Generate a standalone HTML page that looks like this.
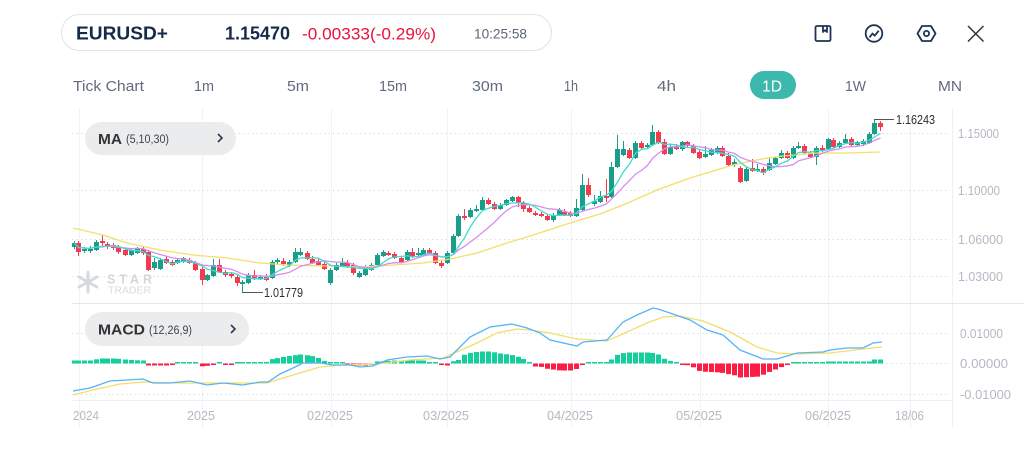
<!DOCTYPE html>
<html><head><meta charset="utf-8">
<style>
html,body{margin:0;padding:0;background:#fff;width:1024px;height:456px;overflow:hidden}
svg{display:block}
text{font-family:"Liberation Sans",sans-serif}
</style></head><body>
<svg id="s" width="1024" height="456" viewBox="0 0 1024 456" xmlns="http://www.w3.org/2000/svg">
<rect width="1024" height="456" fill="#fff"/>
<!-- top bar -->
<rect x="61.5" y="14.5" width="490" height="36" rx="18" fill="#fff" stroke="#dfe2e8"/>
<text x="76" y="39.5" font-size="18" font-weight="bold" fill="#162a4a" textLength="92" lengthAdjust="spacingAndGlyphs">EURUSD+</text>
<text x="225" y="39.5" font-size="18" font-weight="bold" fill="#162a4a" textLength="65" lengthAdjust="spacingAndGlyphs">1.15470</text>
<text x="302" y="39.5" font-size="17" fill="#e8123c" textLength="134" lengthAdjust="spacingAndGlyphs">-0.00333(-0.29%)</text>
<text x="474" y="38.5" font-size="14" fill="#5b6577" textLength="53" lengthAdjust="spacingAndGlyphs">10:25:58</text>
<!-- icons -->
<g fill="none" stroke="#1f3557" stroke-width="1.8" stroke-linejoin="round">
<rect x="815.5" y="26" width="15" height="15" rx="1.5"/>
<path d="M823 26 v6 l2 -1.8 l2 1.8 v-6"/>
<circle cx="874" cy="33.5" r="8.3"/>
<path d="M869.5 37.5 l3 -4 l2.2 2.2 l4 -5"/>
<path d="M917.5 33.5 L922 26 L931 26 L935.5 33.5 L931 41 L922 41 Z"/>
<circle cx="926.5" cy="33.5" r="2.6"/>
</g>
<g stroke="#333" stroke-width="1.5"><line x1="968" y1="26" x2="983.5" y2="41.5"/><line x1="983.5" y1="26" x2="968" y2="41.5"/></g>
<!-- timeframe row -->
<g font-size="15" fill="#5f6b7e">
<text x="73" y="91" textLength="71" lengthAdjust="spacingAndGlyphs">Tick Chart</text>
<text x="194" y="91" textLength="20" lengthAdjust="spacingAndGlyphs">1m</text>
<text x="287" y="91" textLength="22" lengthAdjust="spacingAndGlyphs">5m</text>
<text x="379" y="91" textLength="28" lengthAdjust="spacingAndGlyphs">15m</text>
<text x="472" y="91" textLength="31" lengthAdjust="spacingAndGlyphs">30m</text>
<text x="564" y="91" textLength="14" lengthAdjust="spacingAndGlyphs">1h</text>
<text x="657" y="91" textLength="19" lengthAdjust="spacingAndGlyphs">4h</text>
<text x="845" y="91" textLength="21" lengthAdjust="spacingAndGlyphs">1W</text>
<text x="938" y="91" textLength="24" lengthAdjust="spacingAndGlyphs">MN</text>
</g>
<rect x="750" y="71" width="46" height="28" rx="14" fill="#3db8ad"/>
<text x="762" y="91.5" font-size="16" fill="#fff" textLength="20" lengthAdjust="spacingAndGlyphs">1D</text>
<!-- grid -->
<g stroke="#f1f2f4" stroke-width="1">
<line x1="79.5" y1="108" x2="79.5" y2="428"/><line x1="202.5" y1="108" x2="202.5" y2="428"/>
<line x1="331.5" y1="108" x2="331.5" y2="428"/><line x1="447.5" y1="108" x2="447.5" y2="428"/>
<line x1="571.5" y1="108" x2="571.5" y2="428"/><line x1="700.5" y1="108" x2="700.5" y2="428"/>
<line x1="828.5" y1="108" x2="828.5" y2="428"/><line x1="910.5" y1="108" x2="910.5" y2="428"/>
</g>
<line x1="952.5" y1="108" x2="952.5" y2="428" stroke="#eef0f3"/>
<line x1="72" y1="303.5" x2="1024" y2="303.5" stroke="#e6e8ec"/>
<line x1="72" y1="400.5" x2="952" y2="400.5" stroke="#eef0f3"/>
<g stroke="#dcdfe4" stroke-width="1" stroke-dasharray="1.5 3">
<line x1="72" y1="133.5" x2="950" y2="133.5"/><line x1="72" y1="190.5" x2="950" y2="190.5"/>
<line x1="72" y1="239.5" x2="950" y2="239.5"/><line x1="72" y1="276.5" x2="950" y2="276.5"/>
<line x1="72" y1="333.5" x2="950" y2="333.5"/><line x1="72" y1="363.5" x2="950" y2="363.5"/>
<line x1="72" y1="394.5" x2="950" y2="394.5"/>
</g>
<!-- y labels -->
<g font-size="13" fill="#b3b8c2">
<text x="958" y="138" textLength="41" lengthAdjust="spacingAndGlyphs">1.15000</text>
<text x="958" y="195" textLength="42" lengthAdjust="spacingAndGlyphs">1.10000</text>
<text x="958" y="244" textLength="45" lengthAdjust="spacingAndGlyphs">1.06000</text>
<text x="958" y="281" textLength="45" lengthAdjust="spacingAndGlyphs">1.03000</text>
<text x="960" y="338" textLength="43" lengthAdjust="spacingAndGlyphs">0.01000</text>
<text x="960" y="368" textLength="48" lengthAdjust="spacingAndGlyphs">0.00000</text>
<text x="960" y="399" textLength="51" lengthAdjust="spacingAndGlyphs">-0.01000</text>
<!-- x labels -->
<text x="73" y="420" textLength="26" lengthAdjust="spacingAndGlyphs">2024</text>
<text x="187" y="420" textLength="28" lengthAdjust="spacingAndGlyphs">2025</text>
<text x="307" y="420" textLength="46" lengthAdjust="spacingAndGlyphs">02/2025</text>
<text x="423" y="420" textLength="46" lengthAdjust="spacingAndGlyphs">03/2025</text>
<text x="547" y="420" textLength="46" lengthAdjust="spacingAndGlyphs">04/2025</text>
<text x="676" y="420" textLength="46" lengthAdjust="spacingAndGlyphs">05/2025</text>
<text x="805" y="420" textLength="46" lengthAdjust="spacingAndGlyphs">06/2025</text>
<text x="895" y="420" textLength="29" lengthAdjust="spacingAndGlyphs">18/06</text>
</g>
<!-- watermark -->
<g stroke="#d6d9de" stroke-width="3" stroke-linecap="round">
<line x1="88" y1="272" x2="88" y2="292"/><line x1="79" y1="277" x2="97" y2="287"/><line x1="79" y1="287" x2="97" y2="277"/>
</g>
<text x="107" y="283.5" font-size="12.5" font-weight="bold" fill="#d3d6db" textLength="45" lengthAdjust="spacing">STAR</text>
<text x="108" y="293.5" font-size="10.5" fill="#d8dbe0" textLength="43" lengthAdjust="spacingAndGlyphs">TRADER</text>
<g id="dyn"></g>
<!-- labels -->
<line x1="874" y1="119.5" x2="894" y2="119.5" stroke="#555" stroke-width="1"/>
<text x="896" y="124" font-size="12.5" fill="#2d2d2d" textLength="39" lengthAdjust="spacingAndGlyphs">1.16243</text>
<line x1="242" y1="292.5" x2="263" y2="292.5" stroke="#555" stroke-width="1"/>
<text x="264" y="297" font-size="12.5" fill="#2d2d2d" textLength="39" lengthAdjust="spacingAndGlyphs">1.01779</text>
<!-- pills -->
<rect x="85" y="122" width="151" height="33" rx="16.5" fill="#ebecee"/>
<text x="98" y="144" font-size="15" font-weight="bold" fill="#333" textLength="24" lengthAdjust="spacingAndGlyphs">MA</text>
<text x="126" y="143" font-size="11.5" fill="#444" textLength="43" lengthAdjust="spacingAndGlyphs">(5,10,30)</text>
<path d="M218 134 l4 4 l-4 4" fill="none" stroke="#2b3a55" stroke-width="1.6"/>
<rect x="85" y="312" width="164" height="34" rx="17" fill="#ebecee"/>
<text x="98" y="334.5" font-size="15" font-weight="bold" fill="#333" textLength="47" lengthAdjust="spacingAndGlyphs">MACD</text>
<text x="149" y="334" font-size="11.5" fill="#444" textLength="43" lengthAdjust="spacingAndGlyphs">(12,26,9)</text>
<path d="M231 325 l4 4 l-4 4" fill="none" stroke="#2b3a55" stroke-width="1.6"/>
</svg>
<script>
var C=[[74,247,243,241,249],[78,243,252,241,256],[84,251,249,247,253],[90,251,249,246,253],[96,250,242,240,251],[102,241,243,235,247],[107,244,247,242,249],[113,245,248,243,250],[118,247,252,245,254],[125,250,255,248,256],[131,255,250,248,256],[137,253,249,247,254],[143,249,253,247,255],[148,252,270,250,271],[154,268,262,258,270],[160,269,260,258,270],[166,259,263,256,264],[172,262,265,260,266],[177,263,260,259,264],[183,262,258,257,263],[189,260,263,258,264],[195,263,270,261,271],[202,269,280,267,285],[207,280,275,274,281],[213,276,265,259,277],[219,265,272,259,273],[225,272,275,270,277],[231,274,276,272,278],[237,277,283,275,286],[242,284,282,280,292],[248,283,275,273,284],[254,275,278,270,280],[260,278,277,275,280],[266,277,280,274,281],[272,278,262,260,279],[277,262,260,258,264],[283,261,264,258,266],[289,265,262,260,267],[295,262,252,248,263],[300,255,252,248,256],[307,253,259,251,260],[312,259,263,256,264],[318,261,265,258,266],[324,264,269,262,270],[330,283,270,268,285],[336,270,265,263,271],[342,266,263,258,267],[347,263,267,260,268],[353,265,273,263,275],[359,277,273,271,278],[365,275,267,265,276],[371,270,265,263,271],[377,265,255,253,266],[383,256,252,250,257],[388,253,255,251,256],[394,254,258,252,259],[401,258,262,256,263],[407,260,252,250,261],[412,252,257,248,258],[418,255,253,248,256],[423,255,250,248,256],[429,250,253,248,254],[435,253,263,251,264],[441,263,266,261,268],[447,263,253,251,264],[453,253,236,234,254],[458,236,216,214,237],[464,216,218,209,220],[470,217,210,208,218],[476,211,209,205,212],[482,210,200,197,211],[488,200,204,198,205],[494,204,209,202,210],[500,209,205,203,210],[506,205,200,199,206],[512,201,197,196,202],[518,197,203,196,207],[523,203,209,201,212],[529,208,212,206,213],[535,213,215,211,216],[541,214,216,212,217],[547,216,220,214,221],[553,220,215,213,222],[559,215,210,208,216],[564,212,215,209,216],[570,213,216,211,217],[576,216,208,199,217],[582,210,185,174,211],[588,185,195,178,197],[594,204,201,195,206],[600,202,196,191,203],[606,196,198,179,202],[611,197,167,162,198],[617,167,149,135,168],[623,155,149,141,156],[629,150,158,148,159],[635,158,143,141,159],[641,143,148,141,149],[647,147,145,143,148],[652,145,132,125,146],[658,132,143,130,144],[664,142,154,139,155],[670,154,147,145,155],[676,146,149,144,150],[682,149,142,141,151],[687,142,146,141,147],[693,146,153,144,154],[699,152,158,150,159],[705,157,154,146,158],[711,155,150,148,156],[717,153,148,146,154],[722,148,156,146,157],[728,156,165,153,166],[734,165,162,159,167],[740,168,182,166,183],[746,181,169,167,182],[752,168,171,159,172],[757,171,169,164,172],[763,169,173,167,175],[769,170,163,158,171],[775,164,158,157,165],[781,158,153,150,159],[787,153,158,151,159],[793,158,148,146,159],[798,148,146,142,149],[804,146,153,144,154],[810,153,157,151,158],[816,157,148,146,165],[822,148,150,145,152],[828,149,139,138,150],[833,140,147,138,148],[839,147,143,141,148],[845,143,139,134,144],[851,139,145,137,146],[857,145,142,141,146],[863,144,141,139,146],[869,143,134,132,144],[874,134,123,119,135],[880,123,127,121,131]];
var G='#1a9e89',R='#f23b50',h='';
C.forEach(function(c){var x=c[0],o=c[1],cl=c[2],hi=c[3],lo=c[4];var col=cl<=o?G:R;var t=Math.min(o,cl),b=Math.max(o,cl);
h+='<line x1="'+(x+0.5)+'" y1="'+hi+'" x2="'+(x+0.5)+'" y2="'+lo+'" stroke="'+col+'" stroke-width="1"/>';
h+='<rect x="'+(x-2)+'" y="'+t+'" width="5" height="'+Math.max(b-t,2)+'" fill="'+col+'"/>';});
function ma(n){return C.map(function(c,i){var s=0,k=0;for(var j=Math.max(0,i-n+1);j<=i;j++){s+=C[j][2];k++;}return (c[0]+0.5)+','+(s/k).toFixed(1);}).join(' ');}
var Y30="73,228 103,235 127,243 160,250 193,255 227,258 260,263 287,265 327,266 360,267 393,265 423,263 450,259 477,253 507,243 530,236 570,223 600,214 623,205 657,190 690,178 710,172 733,165 767,158 783,156 817,153 850,153 880,152";
h+='<polyline points="'+Y30+'" fill="none" stroke="#f3df6a" stroke-width="1.3"/>';
h+='<polyline points="'+ma(10)+'" fill="none" stroke="#d88cf3" stroke-width="1.3"/>';
h+='<polyline points="'+ma(5)+'" fill="none" stroke="#3fdccb" stroke-width="1.3"/>';
var K=[[73,3],[90,3],[100,5],[115,5],[125,4],[140,3],[145,3],[148,-2],[170,-2],[175,1],[195,1],[200,-3],[210,-2],[215,0.5],[230,-1],[240,1],[265,1],[270,4],[285,7],[300,9],[310,8],[320,5],[325,2],[330,1],[345,1],[350,-2],[370,-2],[375,2],[395,3],[425,3],[430,1],[440,1],[442,-2],[450,-2],[452,2],[460,4],[465,10],[480,12],[490,12],[500,10],[515,8],[522,5],[528,2],[532,-3],[540,-3],[545,-5],[560,-7],[570,-7],[578,-5],[582,-1],[585,0.5],[605,0.5],[610,3],[615,8],[625,11],[650,11],[658,9],[665,4],[672,2],[675,0.5],[680,-1],[690,-2],[695,-5],[700,-8],[720,-9],[735,-12],[740,-14],[760,-13],[765,-10],[775,-6],[785,-2],[795,1],[820,1],[825,2],[860,2],[870,2],[872,4],[882,4]];
function iv(x){if(x<=K[0][0])return K[0][1];for(var i=1;i<K.length;i++){if(x<=K[i][0]){var a=K[i-1],b=K[i];return a[1]+(b[1]-a[1])*(x-a[0])/(b[0]-a[0]);}}return K[K.length-1][1];}
C.forEach(function(c){var x=c[0],v=iv(x);var hh=Math.max(Math.abs(v),1.5);
if(v>=0)h+='<rect x="'+(x-2)+'" y="'+(363.5-hh)+'" width="5" height="'+hh+'" fill="#12cf9c"/>';
else h+='<rect x="'+(x-2)+'" y="363.5" width="5" height="'+hh+'" fill="#fa1e46"/>';});
var MB="73,391 90,388 110,381 127,380 143,379 153,383 170,383 190,381 207,385 223,383 243,385 260,382 268,382 280,374 293,368 303,363 320,363 333,365 350,365 360,367 373,366 387,360 407,357 427,356 440,359 450,357 470,337 490,327 512,324 527,328 540,333 550,340 577,346 583,342 607,340 623,322 637,315 653,308 658,309 670,313 690,320 707,330 723,335 740,350 763,359 777,359 797,353 823,352 830,350 847,348 863,348 873,343 882,342";
var MS="73,395 93,390 120,384 143,382 177,383 210,383 243,383 267,383 293,375 320,367 343,365 377,364 410,360 443,358 477,343 497,333 517,329 530,330 550,333 577,339 607,341 627,332 647,323 663,317 680,316 703,321 730,332 757,347 777,353 797,354 830,353 863,349 882,347";
h+='<polyline points="'+MS+'" fill="none" stroke="#f1df6c" stroke-width="1.3"/>';
h+='<polyline points="'+MB+'" fill="none" stroke="#58b3f6" stroke-width="1.3"/>';
document.getElementById('dyn').innerHTML=h;
</script>
</body></html>
